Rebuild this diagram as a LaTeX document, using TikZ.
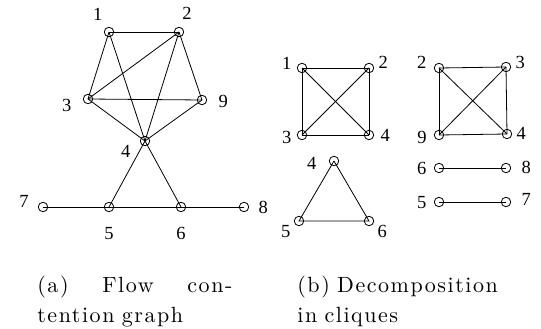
\documentclass[tikz,border=0pt]{standalone}
\usepackage{fontspec}
\newfontfamily\labelfont{Liberation Serif}
\newfontfamily\capfont{lmroman10-regular.otf}[LetterSpace=7, WordSpace=1.5]
\usepackage{tikz}

\begin{document}
\begin{tikzpicture}[
    x=1pt, y=-1pt,
    line width=0.8pt,
    vertex/.style={circle, draw, minimum size=9.5pt, inner sep=0pt, outer sep=0pt},
    lbl/.style={font=\labelfont\fontsize{18.5}{18.5}\selectfont, inner sep=0pt, anchor=center},
    caption/.style={font=\capfont\fontsize{22}{30}\selectfont, anchor=base west,
        inner sep=0pt, text width=215pt, align=left}
]
\useasboundingbox (0,0) rectangle (541,329);

% (a) flow contention graph
\node[vertex, label={[lbl,label distance=15.7pt]123:1}] (a1) at (109,32) {};
\node[vertex, label={[lbl,label distance=16pt]67:2}] (a2) at (179,32) {};
\node[vertex, label={[lbl,label distance=17.3pt]196:3}] (a3) at (88,99) {};
\node[vertex, label={[lbl,label distance=16.5pt]355:9}] (a9) at (202,100) {};
\node[vertex, label={[lbl,label distance=17pt]208:4}] (a4) at (145,141) {};
\node[vertex, label={[lbl,label distance=15pt]165:7}] (a7) at (43,207) {};
\node[vertex, label={[lbl,label distance=21.5pt]270:5}] (a5) at (109,207) {};
\node[vertex, label={[lbl,label distance=21.5pt]270:6}] (a6) at (181,207) {};
\node[vertex, label={[lbl,label distance=14.5pt]0:8}] (a8) at (244,207) {};
\foreach \u/\v in {1/2,1/3,1/4,2/3,2/4,2/9,3/9,3/4,9/4,4/5,4/6,7/5,5/6,6/8}
    \draw (a\u.center) -- (a\v.center);

% (b) cliques
\node[vertex, label={[lbl,label distance=11.3pt]162:1}] (p1) at (302,68) {};
\node[vertex, label={[lbl,label distance=10.7pt]23:2}] (p2) at (369,68) {};
\node[vertex, label={[lbl,label distance=10.6pt]188:3}] (p3) at (302,135) {};
\node[vertex, label={[lbl,label distance=11.5pt]0:4}] (p4) at (369,135) {};
\foreach \u/\v in {1/2,1/3,1/4,2/3,2/4,3/4}
    \draw (p\u.center) -- (p\v.center);

\node[vertex, label={[lbl,label distance=13.5pt]161:2}] (q2) at (439,68) {};
\node[vertex, label={[lbl,label distance=10pt]16:3}] (q3) at (506,67) {};
\node[vertex, label={[lbl,label distance=12.5pt]187:9}] (q9) at (439,135) {};
\node[vertex, label={[lbl,label distance=9.5pt]4:4}] (q4) at (507,134) {};
\foreach \u/\v in {2/3,2/9,2/4,3/9,3/4,9/4}
    \draw (q\u.center) -- (q\v.center);

\node[vertex, label={[lbl,label distance=17.5pt]185:4}] (t4) at (334,161) {};
\node[vertex, label={[lbl,label distance=12pt]218:5}] (t5) at (299,221) {};
\node[vertex, label={[lbl,label distance=12pt]322:6}] (t6) at (369,221) {};
\draw (t4.center) -- (t5.center) -- (t6.center) -- (t4.center);

\node[vertex, label={[lbl,label distance=12.5pt]180:6}] (e6) at (439,168) {};
\node[vertex, label={[lbl,label distance=15.5pt]3:8}] (e8) at (506,168) {};
\draw (e6.center) -- (e8.center);
\node[vertex, label={[lbl,label distance=12.5pt]183:5}] (f5) at (439,202) {};
\node[vertex, label={[lbl,label distance=15.5pt]6:7}] (f7) at (506,202) {};
\draw (f5.center) -- (f7.center);

% captions
\node[caption] (capa) at (37,292) {\hbox to 195pt{(a)\hfill Flow\hfill con-}\\tention graph};
\node[caption] (capb) at (297,292) {(b) Decomposition\\in cliques};
\end{tikzpicture}
\end{document}
